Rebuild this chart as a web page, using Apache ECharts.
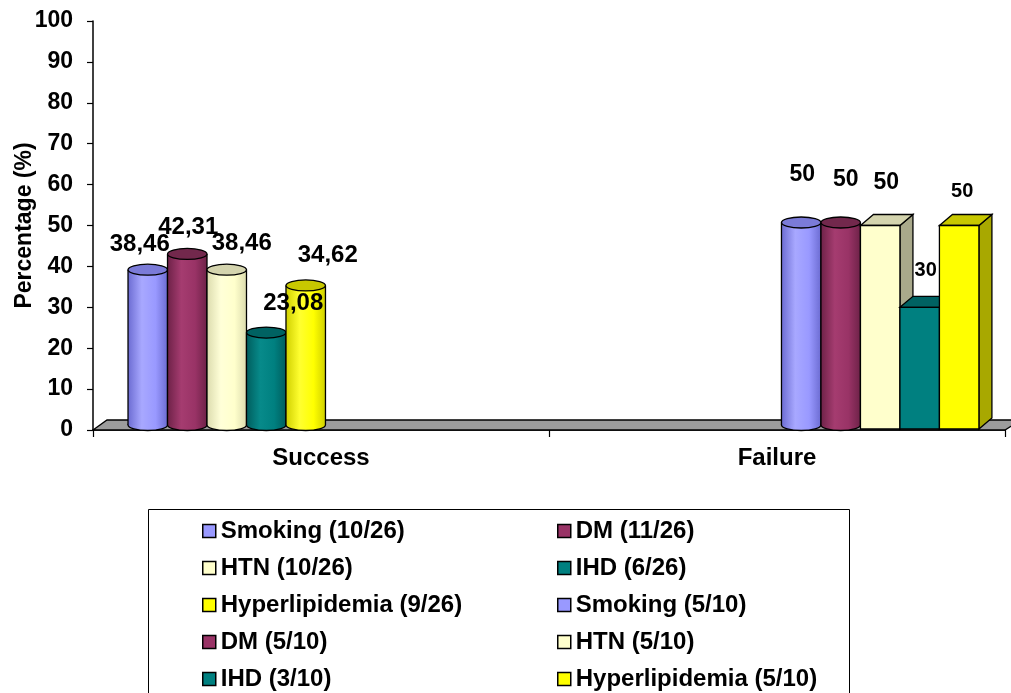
<!DOCTYPE html>
<html>
<head>
<meta charset="utf-8">
<script src="https://cdn.jsdelivr.net/npm/echarts@6/dist/echarts.min.js"></script>
<style>
  html, body { margin: 0; padding: 0; background: #ffffff; }
  #chart { width: 1011px; height: 693px; }
</style>
</head>
<body>
<div id="chart"></div>
<script>
// Outcome groups on the x axis
const categories = ['Success', 'Failure'];

// Risk factor share within each outcome group (%)
const successNames = ['Smoking (10/26)', 'DM (11/26)', 'HTN (10/26)', 'IHD (6/26)', 'Hyperlipidemia (9/26)'];
const successValues = [38.46, 42.31, 38.46, 23.08, 34.62];
const failureNames = ['Smoking (5/10)', 'DM (5/10)', 'HTN (5/10)', 'IHD (3/10)', 'Hyperlipidemia (5/10)'];
const failureValues = [50, 50, 50, 30, 50];

// Value axis
const yMin = 0, yMax = 100, yStep = 10;

const FONT = "'Liberation Sans', Arial, sans-serif";

// Colour set per risk factor (order: Smoking, DM, HTN, IHD, Hyperlipidemia)
const factorColors = [
  { base: '#9999ff', dark: '#6c6cd2', light: '#a8a8ff', top: '#7b7bd8', side: '#6f6fc0' },
  { base: '#993366', dark: '#6e2248', light: '#a53c70', top: '#72284c', side: '#6a2346' },
  { base: '#ffffcc', dark: '#dcdcae', light: '#ffffd8', top: '#d4d4ae', side: '#a9a98b' },
  { base: '#008080', dark: '#005e5e', light: '#078a8a', top: '#006262', side: '#005a5a' },
  { base: '#ffff00', dark: '#d0d000', light: '#ffff30', top: '#c8c800', side: '#a8a800' }
];

// Shape used for each bar in the two groups
const successShapes = ['cylinder', 'cylinder', 'cylinder', 'cylinder', 'cylinder'];
const failureShapes = ['cylinder', 'cylinder', 'box', 'box', 'box'];

// Label placement relative to the bar top (dx, dy) and label size
const successLabelOffsets = [[-8, -28], [1, -30], [15, -29], [27, -32], [22, -33]];
const failureLabelOffsets = [[1, -51], [5, -46], [6, -43], [6, -37], [3, -34]];
const successLabelSizes = [24, 24, 24, 24, 24];
const failureLabelSizes = [23, 23, 23, 20, 20];

const SLOT_START = 0.0768;   // fraction of the band before the first bar slot
const SLOT_WIDTH = 0.0866;   // fraction of the band per bar slot
const DEPTH_X = 13, DEPTH_Y = 11;

function fmt(v) {
  return String(v).replace('.', ',');
}

function makeRender(slot, shape, col, labelOff, labelSize) {
  return function (params, api) {
    const cat = api.value(0);
    const val = api.value(1);
    const band = api.size([1, 0])[0];
    const base = api.coord([cat, 0]);
    const top = api.coord([cat, val]);
    const w = band * SLOT_WIDTH;
    const x0 = base[0] - band / 2 + band * SLOT_START + slot * w;
    const cx = x0 + w / 2;
    const children = [];
    const stroke = { stroke: '#000', lineWidth: 1.3 };

    if (shape === 'cylinder') {
      const rx = w / 2, ry = 5.5;
      const yb = base[1] - 5;
      const yt = top[1] - 3;
      const grad = {
        type: 'linear', x: 0, y: 0, x2: 1, y2: 0,
        colorStops: [
          { offset: 0, color: col.dark },
          { offset: 0.35, color: col.light },
          { offset: 0.7, color: col.base },
          { offset: 1, color: col.dark }
        ]
      };
      children.push({ type: 'ellipse', shape: { cx: cx, cy: yb, rx: rx, ry: ry },
        style: Object.assign({ fill: grad }, stroke) });
      children.push({ type: 'rect', shape: { x: x0, y: yt, width: w, height: yb - yt },
        style: { fill: grad } });
      children.push({ type: 'line', shape: { x1: x0, y1: yt, x2: x0, y2: yb }, style: stroke });
      children.push({ type: 'line', shape: { x1: x0 + w, y1: yt, x2: x0 + w, y2: yb }, style: stroke });
      children.push({ type: 'ellipse', shape: { cx: cx, cy: yt, rx: rx, ry: ry },
        style: Object.assign({ fill: col.top }, stroke) });
    } else {
      const yt = top[1];
      const yb = base[1] - 1;
      children.push({ type: 'polygon', shape: { points: [
          [x0 + w, yt], [x0 + w + DEPTH_X, yt - DEPTH_Y], [x0 + w + DEPTH_X, yb - DEPTH_Y], [x0 + w, yb]
        ] }, style: Object.assign({ fill: col.side }, stroke) });
      children.push({ type: 'polygon', shape: { points: [
          [x0, yt], [x0 + DEPTH_X, yt - DEPTH_Y], [x0 + w + DEPTH_X, yt - DEPTH_Y], [x0 + w, yt]
        ] }, style: Object.assign({ fill: col.top }, stroke) });
      children.push({ type: 'rect', shape: { x: x0, y: yt, width: w, height: yb - yt },
        style: Object.assign({ fill: col.base }, stroke) });
    }

    children.push({
      type: 'text',
      z2: 100,
      x: cx + labelOff[0],
      y: top[1] + labelOff[1],
      style: {
        text: fmt(val),
        fill: '#000',
        font: 'bold ' + labelSize + 'px ' + FONT,
        align: 'center',
        verticalAlign: 'middle',
        textAlign: 'center',
        textVerticalAlign: 'middle'
      }
    });
    return { type: 'group', children: children };
  };
}

const series = [];
successNames.forEach(function (name, i) {
  series.push({
    name: name,
    type: 'custom',
    z: 3,
    itemStyle: { color: factorColors[i].base },
    renderItem: makeRender(i, successShapes[i], factorColors[i], successLabelOffsets[i], successLabelSizes[i]),
    data: [[categories[0], successValues[i]]]
  });
});
failureNames.forEach(function (name, i) {
  series.push({
    name: name,
    type: 'custom',
    z: 3,
    itemStyle: { color: factorColors[i].base },
    renderItem: makeRender(5 + i, failureShapes[i], factorColors[i], failureLabelOffsets[i], failureLabelSizes[i]),
    data: [[categories[1], failureValues[i]]]
  });
});

// Grey floor under the plot area
series.push({
  name: 'floor',
  type: 'custom',
  z: 1,
  silent: true,
  renderItem: function (params) {
    const cs = params.coordSys;
    const yb = cs.y + cs.height;
    return {
      type: 'polygon',
      shape: { points: [[cs.x, yb], [cs.x + 14, yb - 10], [cs.x + cs.width + 16, yb - 10], [cs.x + cs.width, yb]] },
      style: { fill: '#9c9c9c', stroke: '#000', lineWidth: 1.3 }
    };
  },
  data: [[categories[0], 0]]
});

const legendText = { fontSize: 24, fontWeight: 'bold', color: '#000', fontFamily: FONT };
const legendCommon = {
  orient: 'vertical',
  icon: 'rect',
  itemWidth: 13,
  itemHeight: 13,
  itemGap: 13,
  top: 514,
  height: 320,
  itemStyle: { borderColor: '#000', borderWidth: 1.5 },
  textStyle: legendText,
  selectedMode: false
};

const chart = echarts.init(document.getElementById('chart'), null, { renderer: 'canvas' });
chart.setOption({
  animation: false,
  backgroundColor: '#ffffff',
  grid: { left: 93, right: 6, top: 21, bottom: 263, containLabel: false, outerBoundsMode: 'none' },
  xAxis: {
    type: 'category',
    data: categories,
    axisLine: { lineStyle: { color: '#000', width: 1.5 } },
    axisTick: { show: true, length: 7, lineStyle: { color: '#000', width: 1.2 } },
    axisLabel: { fontSize: 24, fontWeight: 'bold', color: '#000', fontFamily: FONT, margin: 16 },
    splitLine: { show: false }
  },
  yAxis: {
    type: 'value',
    min: yMin, max: yMax, interval: yStep,
    name: 'Percentage (%)',
    nameLocation: 'middle',
    nameRotate: 90,
    nameGap: 57,
    nameMoveOverlap: false,
    nameTextStyle: { fontSize: 23, fontWeight: 'bold', color: '#000', fontFamily: FONT },
    axisLine: { show: true, lineStyle: { color: '#000', width: 1.5 } },
    axisTick: { show: true, length: 6, lineStyle: { color: '#000', width: 1.2 } },
    axisLabel: { fontSize: 23, fontWeight: 'bold', color: '#000', fontFamily: FONT, margin: 20 },
    splitLine: { show: false }
  },
  legend: [
    Object.assign({ left: 197, data: [successNames[0], successNames[2], successNames[4], failureNames[1], failureNames[3]] }, legendCommon),
    Object.assign({ left: 552, data: [successNames[1], successNames[3], failureNames[0], failureNames[2], failureNames[4]] }, legendCommon)
  ],
  graphic: [{
    type: 'rect',
    shape: { x: 148.5, y: 509.5, width: 701, height: 200 },
    style: { fill: 'none', stroke: '#000', lineWidth: 1 },
    z: -1
  }],
  series: series
});
</script>
</body>
</html>
